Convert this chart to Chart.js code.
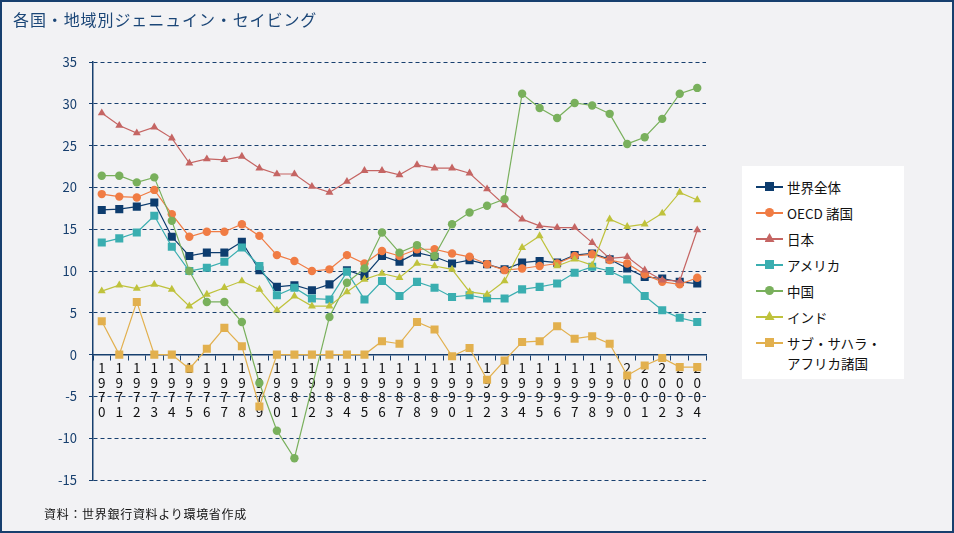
<!DOCTYPE html>
<html lang="ja">
<head>
<meta charset="utf-8">
<script src="https://cdn.jsdelivr.net/npm/chart.js@4.4.1/dist/chart.umd.min.js"></script>
<style>
    body { margin: 0; background: #f2f2f4; font-family: "Noto Sans CJK JP", sans-serif; }
    #wrap { position: relative; width: 954px; height: 533px; background: #f2f2f4; overflow: hidden; }
    #frame { position: absolute; left: 0; top: 0; width: 954px; height: 533px; box-sizing: border-box; border: 2px solid #173f6e; pointer-events: none; }
    #title { position: absolute; left: 13px; top: 7px; font-size: 16px; letter-spacing: 0.9px; color: #1b4677; white-space: nowrap; }
    #note { position: absolute; left: 44px; top: 505px; font-size: 12px; letter-spacing: 0.7px; color: #111; white-space: nowrap; }
    #legend { position: absolute; left: 742px; top: 166px; width: 162px; height: 213px; background: #fff; }
    .item { position: absolute; left: 14px; height: 20px; width: 148px; }
    .item .ln { position: absolute; left: 0; top: 9px; width: 27px; height: 1.5px; }
    .item .mk { position: absolute; left: 9px; top: 5px; width: 9px; height: 9px; }
    .item .tx { position: absolute; left: 31px; top: 0; font-size: 13.5px; line-height: 20px; color: #111; white-space: nowrap; }
    canvas { position: absolute; left: 0; top: 0; }
</style>
</head>
<body>
<div id="wrap">
    <canvas id="chart" width="954" height="533"></canvas>
    <div id="title">各国・地域別ジェニュイン・セイビング</div>
    <div id="legend"></div>
    <div id="note">資料：世界銀行資料より環境省作成</div>
    <div id="frame"></div>
</div>
<script>
// categories
const years = [1970, 1971, 1972, 1973, 1974, 1975, 1976, 1977, 1978, 1979,
    1980, 1981, 1982, 1983, 1984, 1985, 1986, 1987, 1988, 1989,
    1990, 1991, 1992, 1993, 1994, 1995, 1996, 1997, 1998, 1999,
    2000, 2001, 2002, 2003, 2004];

// series values (%)
const world = [17.3, 17.4, 17.7, 18.2, 14.1, 11.8, 12.2, 12.2, 13.5, 10.1,
    8.1, 8.3, 7.7, 8.4, 10.1, 9.4, 11.8, 11.1, 12.2, 11.7,
    10.9, 11.3, 10.8, 10.2, 11.0, 11.2, 11.0, 11.9, 12.1, 11.4,
    10.3, 9.3, 9.1, 8.7, 8.5];
const oecd = [19.2, 18.9, 18.8, 19.7, 16.8, 14.1, 14.7, 14.7, 15.6, 14.2,
    11.9, 11.2, 10.0, 10.2, 11.9, 10.9, 12.4, 11.8, 12.6, 12.6,
    12.1, 11.7, 10.8, 10.1, 10.3, 10.6, 10.9, 11.8, 12.0, 11.3,
    10.9, 9.6, 8.7, 8.4, 9.2];
const japan = [28.9, 27.4, 26.5, 27.2, 25.9, 22.9, 23.4, 23.3, 23.7, 22.3,
    21.6, 21.6, 20.1, 19.4, 20.7, 22.0, 22.0, 21.5, 22.7, 22.3,
    22.3, 21.7, 19.8, 17.9, 16.2, 15.4, 15.2, 15.2, 13.4, 11.5,
    11.7, 10.1, 8.9, 8.8, 14.9];
const usa = [13.4, 13.9, 14.6, 16.6, 12.9, 10.0, 10.4, 11.1, 12.8, 10.6,
    7.1, 8.0, 6.7, 6.6, 9.9, 6.6, 8.8, 7.0, 8.7, 8.0,
    6.9, 7.1, 6.7, 6.7, 7.8, 8.1, 8.5, 9.8, 10.5, 10.0,
    9.0, 7.0, 5.3, 4.4, 3.9];
const china = [21.4, 21.4, 20.6, 21.2, 16.0, 10.0, 6.3, 6.3, 3.9, -3.4,
    -9.1, -12.4, null, 4.5, 8.6, 10.3, 14.6, 12.2, 13.1, 11.8,
    15.6, 17.0, 17.8, 18.6, 31.2, 29.5, 28.3, 30.1, 29.8, 28.8,
    25.2, 26.0, 28.2, 31.2, 31.9];
const india = [7.6, 8.3, 7.9, 8.4, 7.8, 5.8, 7.2, 8.0, 8.8, 7.8,
    5.3, 7.0, 5.8, 5.8, 7.5, 9.0, 9.7, 9.2, 10.9, 10.6,
    10.2, 7.5, 7.2, 8.8, 12.8, 14.2, 10.6, 11.4, 10.7, 16.2,
    15.3, 15.6, 16.9, 19.4, 18.5];
const ssa = [4.0, 0.0, 6.3, 0.0, 0.0, -1.7, 0.7, 3.2, 1.0, -6.2,
    0.0, 0.0, 0.0, 0.0, 0.0, 0.0, 1.6, 1.3, 3.9, 3.0,
    -0.2, 0.8, -3.0, -0.7, 1.5, 1.6, 3.4, 1.9, 2.2, 1.3,
    -2.5, -1.3, -0.4, -1.5, -1.5];

// y axis ticks
const yMin = -15;
const yMax = 35;
const yStep = 5;

const navy = '#173f6e';
const fontFamily = '"Noto Sans CJK JP", sans-serif';

const seriesList = [
    { label: '世界全体', data: world, color: '#0d3c6e', shape: 'rect' },
    { label: 'OECD 諸国', data: oecd, color: '#f07c44', shape: 'circle' },
    { label: '日本', data: japan, color: '#c56563', shape: 'triangle' },
    { label: 'アメリカ', data: usa, color: '#3aaeb0', shape: 'rect' },
    { label: '中国', data: china, color: '#79b05c', shape: 'circle' },
    { label: 'インド', data: india, color: '#bfc23c', shape: 'triangle' },
    { label: 'サブ・サハラ・\nアフリカ諸国', data: ssa, color: '#e2b04e', shape: 'rect' }
];

function pointSize(shape) {
    if (shape === 'rect') return 5.7;
    if (shape === 'triangle') return 4.6;
    return 4.2;
}

const datasets = seriesList.map((s, i) => ({
    label: s.label,
    data: s.data,
    borderColor: s.color,
    backgroundColor: s.color,
    borderWidth: 1.2,
    pointStyle: s.shape,
    pointRadius: pointSize(s.shape),
    pointBorderWidth: 0,
    pointBackgroundColor: s.color,
    tension: 0,
    spanGaps: true,
    order: seriesList.length - i   // later series drawn on top, like the original
}));

new Chart(document.getElementById('chart'), {
    type: 'line',
    data: {
        labels: years.map(y => String(y).split('')),
        datasets: datasets
    },
    options: {
        responsive: false,
        animation: false,
        layout: { padding: { left: 0, right: 248, top: 62, bottom: 53 } },
        plugins: { legend: { display: false }, tooltip: { enabled: false } },
        scales: {
            x: {
                position: { y: 0 },
                offset: true,
                grid: { offset: true, drawOnChartArea: false, tickLength: 5, color: navy, lineWidth: 1 },
                border: { color: navy, width: 1.5 },
                ticks: {
                    color: '#111',
                    font: { family: fontFamily, size: 13.5, lineHeight: 1.08 },
                    padding: 1,
                    maxRotation: 0,
                    autoSkip: false
                }
            },
            y: {
                min: yMin,
                max: yMax,
                ticks: {
                    stepSize: yStep,
                    color: navy,
                    padding: 12,
                    font: { family: fontFamily, size: 13 }
                },
                grid: { color: navy, lineWidth: 1, tickLength: 4 },
                border: { color: navy, width: 1.5, dash: [4, 3] },
                afterFit: scale => { scale.width = 93; }
            }
        }
    }
});

// legend box
const legendBox = document.getElementById('legend');
seriesList.forEach((s, i) => {
    const item = document.createElement('div');
    item.className = 'item';
    item.style.top = (11 + 26 * i) + 'px';
    let mk = '';
    if (s.shape === 'rect') {
        mk = `<div class="mk" style="background:${s.color}"></div>`;
    } else if (s.shape === 'circle') {
        mk = `<div class="mk" style="background:${s.color};border-radius:50%"></div>`;
    } else {
        mk = `<div class="mk" style="background:${s.color};clip-path:polygon(50% 0,100% 100%,0 100%);top:4px;width:10px;left:8.5px"></div>`;
    }
    item.innerHTML = `<div class="ln" style="background:${s.color}"></div>${mk}<div class="tx">${s.label.replace('\n', '<br>')}</div>`;
    legendBox.appendChild(item);
});
</script>
</body>
</html>
